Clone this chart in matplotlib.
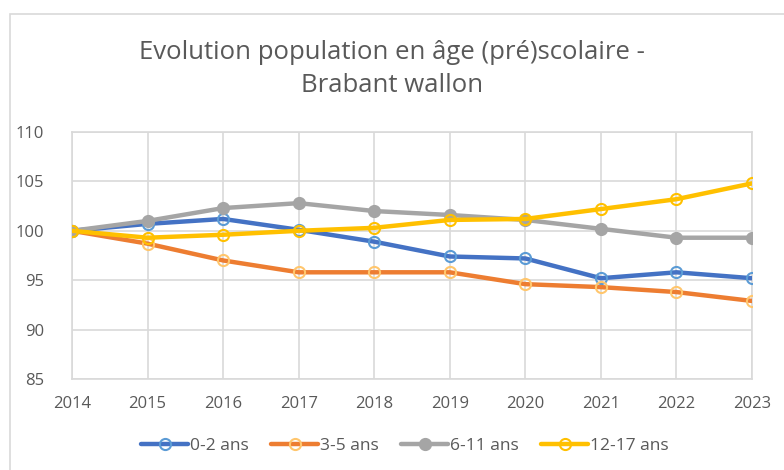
import matplotlib
matplotlib.use('Agg')
import matplotlib.pyplot as plt
from matplotlib.patches import Rectangle

plt.rcParams['font.family'] = ['Open Sans', 'DejaVu Sans']

# données (indice base 100 en 2014)
years = [2014, 2015, 2016, 2017, 2018, 2019, 2020, 2021, 2022, 2023]
age_0_2 = [100, 100.7, 101.2, 100.1, 98.9, 97.4, 97.2, 95.2, 95.8, 95.2]
age_3_5 = [100, 98.7, 97.0, 95.8, 95.8, 95.8, 94.6, 94.3, 93.8, 92.9]
age_6_11 = [100, 101.0, 102.3, 102.8, 102.0, 101.6, 101.1, 100.2, 99.3, 99.3]
age_12_17 = [100, 99.3, 99.6, 100.0, 100.3, 101.1, 101.2, 102.2, 103.2, 104.8]
labels = ['0-2 ans', '3-5 ans', '6-11 ans', '12-17 ans']
title = 'Evolution population en âge (pré)scolaire -\nBrabant wallon'

text_col = '#595959'
grid_col = '#D9D9D9'

fig = plt.figure(figsize=(7.84, 4.70), dpi=100)
ax = fig.add_axes([72 / 784, 1 - 379 / 470, 680 / 784, 247 / 470])

# cadre du graphique
fig.patches.append(Rectangle((10 / 784, -0.1), 1.0, 1 - 14 / 470 + 0.1,
                             transform=fig.transFigure, fill=False,
                             edgecolor=grid_col, linewidth=1.2))

styles = [
    (age_0_2, '#4472C4', 'none', '#5B9BD5'),
    (age_3_5, '#ED7D31', 'none', '#FFC66D'),
    (age_6_11, '#A5A5A5', '#A5A5A5', '#A5A5A5'),
    (age_12_17, '#FFC000', 'none', '#FFC000'),
]
for (vals, col, mfc, mec), lab in zip(styles, labels):
    ax.plot(years, vals, color=col, linewidth=3.2, marker='o', markersize=8,
            markerfacecolor=mfc, markeredgecolor=mec, markeredgewidth=1.5,
            label=lab, solid_capstyle='round', zorder=3)

ax.set_xlim(2014, 2023)
ax.set_ylim(85, 110)
ax.set_xticks(years)
ax.set_yticks([85, 90, 95, 100, 105, 110])
ax.grid(True, color=grid_col, linewidth=1.2)
ax.set_axisbelow(True)
for s in ax.spines.values():
    s.set_color(grid_col)
    s.set_linewidth(1.2)
ax.tick_params(length=0, labelsize=12, colors=text_col)
ax.tick_params(axis='x', pad=12)
ax.tick_params(axis='y', pad=20)
for lbl in ax.get_xticklabels() + ax.get_yticklabels():
    lbl.set_color(text_col)

fig.text(0.5, 1 - 69 / 470, title, ha='center', va='center', fontsize=18.5,
         color=text_col, linespacing=1.4)

fig.legend(loc='center', bbox_to_anchor=(405 / 784, 1 - 446 / 470), ncol=4,
           frameon=False, fontsize=12.5, labelcolor=text_col, handlelength=2.7,
           handletextpad=0.1, columnspacing=1.3)

plt.savefig('out.png', dpi=100, facecolor='white')
